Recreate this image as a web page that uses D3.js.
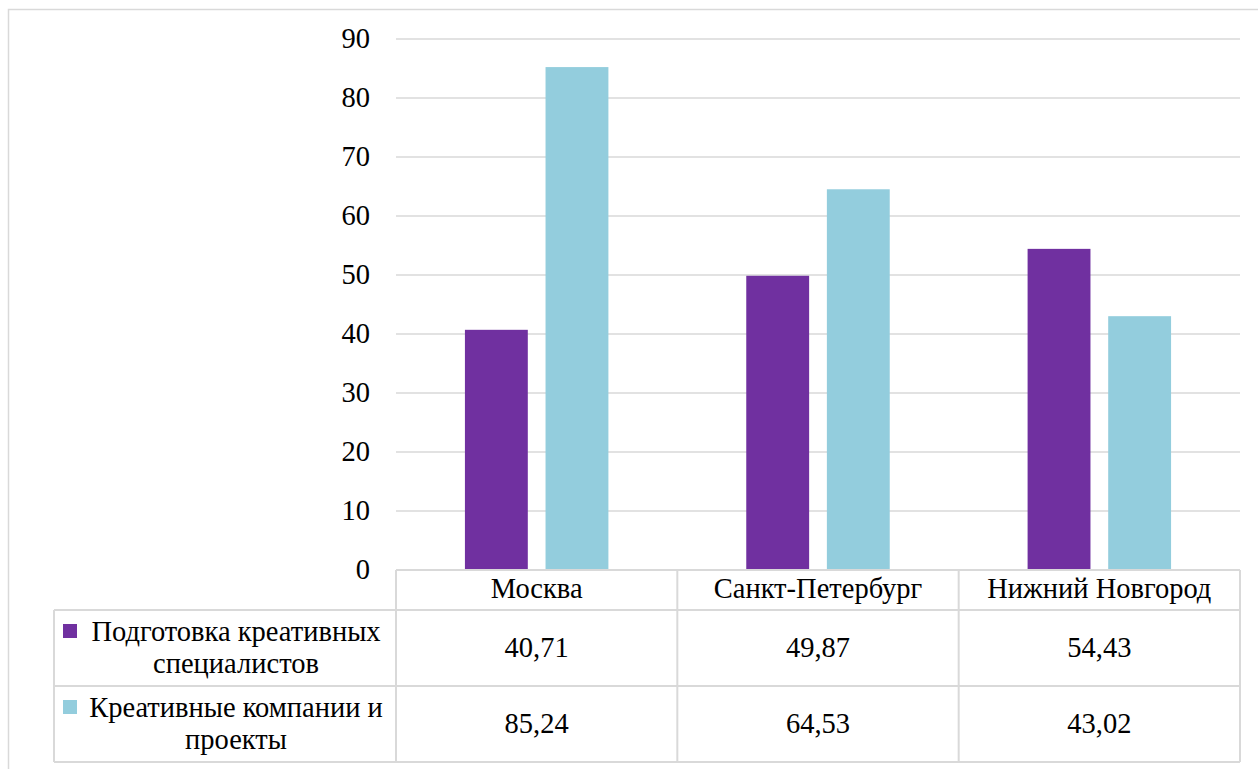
<!DOCTYPE html>
<html>
<head>
<meta charset="utf-8">
<script src="https://cdn.jsdelivr.net/npm/d3@7"></script>
<style>
  body { margin: 0; }
  svg text, svg tspan { font-family: "Liberation Serif", "Times New Roman", Tinos, serif !important; }
</style>
</head>
<body>
<svg id="chart" width="1258" height="769"></svg>
<script>
// Index values by city
const cities = ["Москва", "Санкт-Петербург", "Нижний Новгород"];
const seriesNames = [
  ["Подготовка креативных", "специалистов"],
  ["Креативные компании и", "проекты"]
];
const trainingValues = [40.71, 49.87, 54.43];
const companyValues = [85.24, 64.53, 43.02];
const seriesColors = ["#7030A0", "#93CDDD"];
const yTicks = [0, 10, 20, 30, 40, 50, 60, 70, 80, 90];

const seriesValues = [trainingValues, companyValues];
const fmt = v => v.toFixed(2).replace(".", ",");

const svg = d3.select("#chart").style("display", "block");
const gridColor = "#D9D9D9";
const fontSize = 28.5;
const serif = '"Liberation Serif", "Times New Roman", Tinos, serif';

// Serif text helper
const styleText = sel => sel
  .attr("font-size", fontSize)
  .attr("font-family", serif)
  .style("font-family", serif, "important")
  .attr("fill", "#000");

// Outer frame of the chart area
svg.append("rect")
  .attr("x", 8.5).attr("y", 9.5)
  .attr("width", 1300).attr("height", 800)
  .attr("fill", "none").attr("stroke", gridColor).attr("stroke-width", 1.5);

const plotLeft = 396, plotRight = 1240, plotTop = 39, plotBottom = 570;

const x = d3.scaleBand().domain(cities).range([plotLeft, plotRight]);
const y = d3.scaleLinear().domain([0, 90]).range([plotBottom, plotTop]);
const inner = d3.scaleBand()
  .domain(d3.range(seriesValues.length))
  .range([x.bandwidth() * 0.245, x.bandwidth() * 0.755])
  .paddingInner(0.22);

// Horizontal gridlines
svg.append("g").selectAll("line").data(yTicks).join("line")
  .attr("x1", plotLeft).attr("x2", plotRight)
  .attr("y1", d => y(d)).attr("y2", d => y(d))
  .attr("stroke", gridColor).attr("stroke-width", 1.5);

// Value axis labels
svg.append("g").selectAll("text").data(yTicks).join("text")
  .attr("x", 370).attr("y", d => y(d))
  .attr("dy", "0.32em")
  .attr("text-anchor", "end")
  .call(styleText)
  .text(d => d);

// Bars
seriesValues.forEach((vals, si) => {
  svg.append("g").selectAll("rect").data(vals).join("rect")
    .attr("x", (d, i) => x(cities[i]) + inner(si))
    .attr("width", inner.bandwidth())
    .attr("y", d => y(d))
    .attr("height", d => y(0) - y(d))
    .attr("fill", seriesColors[si]);
});

// Data table beneath the plot
const rowTop = plotBottom, headerBottom = 610, row1Bottom = 686, row2Bottom = 762;
const legendLeft = 54;
const tbl = svg.append("g").attr("stroke", gridColor).attr("stroke-width", 2).attr("fill", "none");
// horizontal rules
tbl.append("line").attr("x1", plotLeft).attr("x2", plotRight).attr("y1", rowTop).attr("y2", rowTop);
[headerBottom, row1Bottom, row2Bottom].forEach(yy => {
  tbl.append("line").attr("x1", legendLeft).attr("x2", plotRight).attr("y1", yy).attr("y2", yy);
});
// vertical rules
tbl.append("line").attr("x1", legendLeft).attr("x2", legendLeft).attr("y1", headerBottom).attr("y2", row2Bottom);
[plotLeft, ...cities.map(c => x(c) + x.bandwidth())].forEach(xx => {
  tbl.append("line").attr("x1", xx).attr("x2", xx).attr("y1", rowTop).attr("y2", row2Bottom);
});

// Category headers
svg.append("g").selectAll("text").data(cities).join("text")
  .attr("x", d => x(d) + x.bandwidth() / 2)
  .attr("y", 598)
  .attr("text-anchor", "middle")
  .call(styleText)
  .text(d => d);

// Values and legend rows
const rowBounds = [[headerBottom, row1Bottom], [row1Bottom, row2Bottom]];
seriesValues.forEach((vals, si) => {
  const [t, b] = rowBounds[si];
  const cy = (t + b) / 2;
  svg.append("g").selectAll("text").data(vals).join("text")
    .attr("x", (d, i) => x(cities[i]) + x.bandwidth() / 2)
    .attr("y", cy)
    .attr("dy", "0.32em")
    .attr("text-anchor", "middle")
    .call(styleText)
    .text(d => fmt(d));

  svg.append("rect")
    .attr("x", 63).attr("y", t + 14)
    .attr("width", 14).attr("height", 14)
    .attr("fill", seriesColors[si]);

  const lbl = svg.append("text")
    .attr("text-anchor", "middle")
    .call(styleText);
  seriesNames[si].forEach((line, li) => {
    lbl.append("tspan")
      .attr("x", 236)
      .attr("y", t + 31 + li * 32)
      .text(line);
  });
});
</script>
</body>
</html>
